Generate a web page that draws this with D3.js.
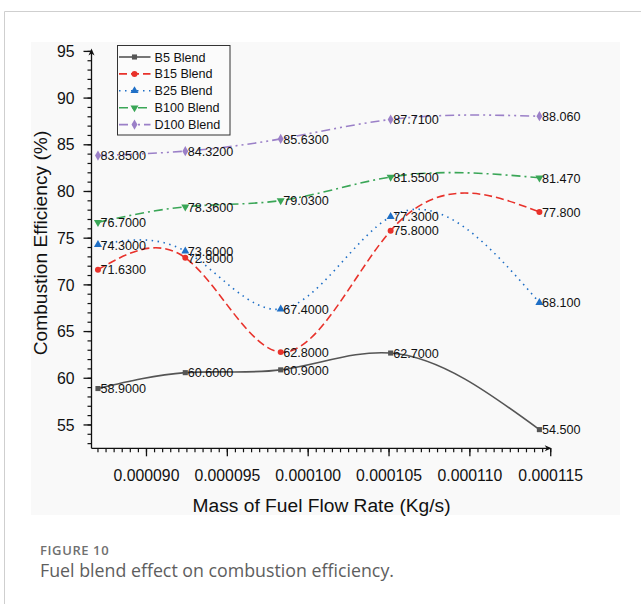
<!DOCTYPE html>
<html>
<head>
<meta charset="utf-8">
<script src="https://cdn.jsdelivr.net/npm/d3@7"></script>
<style>
  body { margin: 0; background: #fff; }
  svg { display: block; }
  svg text { font-family: Arial, "Liberation Sans", Helvetica, sans-serif; }
  svg text.cap { font-family: "Open Sans", "Noto Sans", sans-serif; }
</style>
</head>
<body>
<svg id="chart" width="641" height="604"></svg>
<script>
// mass of fuel flow rate (kg/s)
const flowRates = [0.0000870, 0.0000924, 0.0000983, 0.0001051, 0.0001143]

const seriesNames = ["B5 Blend", "B15 Blend", "B25 Blend", "B100 Blend", "D100 Blend"]
const b5 = [58.90, 60.60, 60.90, 62.70, 54.50]
const b15 = [71.63, 72.90, 62.80, 75.80, 77.80]
const b25 = [74.30, 73.60, 67.40, 77.30, 68.10]
const b100 = [76.70, 78.36, 79.03, 81.55, 81.47]
const d100 = [83.85, 84.32, 85.63, 87.71, 88.06]

const xTicks = [0.000090, 0.000095, 0.000100, 0.000105, 0.000110, 0.000115]
const yTicks = [55, 60, 65, 70, 75, 80, 85, 90, 95]

const colors = ["#555555", "#e8322b", "#1f6fc6", "#3aa657", "#9b80c8"]
const dashes = ["none", "8,4", "1.5,4.5", "9,4,2,4", "9,4,2,4,2,4"]
const symbols = [d3.symbolSquare, d3.symbolCircle, d3.symbolTriangle, d3.symbolTriangle, d3.symbolDiamond]
const symbolRot = [0, 0, 0, 180, 0]

const allSeries = [b5, b15, b25, b100, d100]

// natural cubic spline in x (like Origin's spline connector), as a d3 curve
function curveSplineX(context) {
    let pts = []
    return {
        areaStart() {}, areaEnd() {},
        lineStart() { pts = [] },
        point(px, py) { pts.push([+px, +py]) },
        lineEnd() {
            const n = pts.length - 1
            if (n < 1) return
            const h = d3.range(n).map(i => pts[i + 1][0] - pts[i][0])
            const M = new Array(n + 1).fill(0)
            // tridiagonal solve for inner second derivatives
            const a = [], b = [], c = [], r = []
            for (let i = 1; i < n; i++) {
                a.push(h[i - 1]); b.push(2 * (h[i - 1] + h[i])); c.push(h[i])
                r.push(6 * ((pts[i + 1][1] - pts[i][1]) / h[i] - (pts[i][1] - pts[i - 1][1]) / h[i - 1]))
            }
            const m = r.length
            for (let i = 1; i < m; i++) {
                const w = a[i] / b[i - 1]
                b[i] -= w * c[i - 1]
                r[i] -= w * r[i - 1]
            }
            const sol = new Array(m)
            for (let i = m - 1; i >= 0; i--) sol[i] = (r[i] - (i < m - 1 ? c[i] * sol[i + 1] : 0)) / b[i]
            sol.forEach((v, i) => M[i + 1] = v)

            context.moveTo(pts[0][0], pts[0][1])
            for (let i = 0; i < n; i++) {
                const hi = h[i]
                const s = (pts[i + 1][1] - pts[i][1]) / hi
                const d0 = s - hi * (2 * M[i] + M[i + 1]) / 6
                const d1 = s + hi * (M[i] + 2 * M[i + 1]) / 6
                context.bezierCurveTo(
                    pts[i][0] + hi / 3, pts[i][1] + d0 * hi / 3,
                    pts[i + 1][0] - hi / 3, pts[i + 1][1] - d1 * hi / 3,
                    pts[i + 1][0], pts[i + 1][1])
            }
        }
    }
}

const svg = d3.select("#chart")

// outer frame (left + top rule)
svg.append("line").attr("x1", 4.5).attr("x2", 641).attr("y1", 11.5).attr("y2", 11.5)
    .attr("stroke", "#cfcfcf")
svg.append("line").attr("x1", 4.5).attr("x2", 4.5).attr("y1", 11.5).attr("y2", 604)
    .attr("stroke", "#cfcfcf")

// figure panel
svg.append("rect")
    .attr("x", 31).attr("y", 42)
    .attr("width", 589).attr("height", 473)
    .attr("fill", "#f9f9f9")

const x = d3.scaleLinear().domain([0.0000866, 0.00011506]).range([91.5, 551.7])
const y = d3.scaleLinear().domain([52.5, 95.3]).range([448.3, 48.6])

const axisColor = "#111"

// x axis
const xAxisG = svg.append("g").attr("transform", `translate(0,${y(52.5)})`)
xAxisG.append("line").attr("x1", x.range()[0]).attr("x2", x.range()[1] - 4)
    .attr("stroke", axisColor).attr("stroke-width", 1.3)
xAxisG.append("path")
    .attr("d", `M${x.range()[1]},0 L${x.range()[1] - 7},-3 L${x.range()[1] - 5},0 L${x.range()[1] - 7},3 Z`)
    .attr("fill", axisColor)

const xMinor = d3.range(87, 115.01, 0.5).map(v => v * 1e-6)
xAxisG.selectAll(".xminor").data(xMinor).join("line")
    .attr("class", "xminor")
    .attr("x1", d => x(d)).attr("x2", d => x(d))
    .attr("y1", 0).attr("y2", 4)
    .attr("stroke", axisColor).attr("stroke-width", 1.2)

xAxisG.selectAll(".xmajor").data(xTicks).join("line")
    .attr("class", "xmajor")
    .attr("x1", d => x(d)).attr("x2", d => x(d))
    .attr("y1", 0).attr("y2", 8)
    .attr("stroke", axisColor).attr("stroke-width", 1.3)

xAxisG.selectAll(".xlab").data(xTicks).join("text")
    .attr("class", "xlab")
    .attr("x", d => x(d)).attr("y", 33)
    .attr("text-anchor", "middle")
    .style("font-size", "15.8px")
    .attr("fill", "#111")
    .text(d => d.toFixed(6))

svg.append("text")
    .attr("x", (x.range()[0] + x.range()[1]) / 2).attr("y", 511.5)
    .attr("text-anchor", "middle")
    .style("font-size", "19.2px")
    .attr("fill", "#111")
    .text("Mass of Fuel Flow Rate (Kg/s)")

// y axis
const yAxisG = svg.append("g").attr("transform", `translate(${x.range()[0]},0)`)
yAxisG.append("line").attr("y1", y.range()[0]).attr("y2", y.range()[1] + 4)
    .attr("stroke", axisColor).attr("stroke-width", 1.3)
yAxisG.append("path")
    .attr("d", `M0,${y.range()[1]} L-3,${y.range()[1] + 7} L0,${y.range()[1] + 5} L3,${y.range()[1] + 7} Z`)
    .attr("fill", axisColor)

const yMinor = d3.range(53, 95.01, 1)
yAxisG.selectAll(".yminor").data(yMinor).join("line")
    .attr("class", "yminor")
    .attr("x1", 0).attr("x2", -4)
    .attr("y1", d => y(d)).attr("y2", d => y(d))
    .attr("stroke", axisColor).attr("stroke-width", 1.2)

yAxisG.selectAll(".ymajor").data(yTicks).join("line")
    .attr("class", "ymajor")
    .attr("x1", 0).attr("x2", -8)
    .attr("y1", d => y(d)).attr("y2", d => y(d))
    .attr("stroke", axisColor).attr("stroke-width", 1.3)

yAxisG.selectAll(".ylab").data(yTicks).join("text")
    .attr("class", "ylab")
    .attr("x", -17).attr("y", d => y(d))
    .attr("dy", "0.36em")
    .attr("text-anchor", "end")
    .style("font-size", "15.8px")
    .attr("fill", "#111")
    .text(d => d)

svg.append("text")
    .attr("transform", `translate(47,243) rotate(-90)`)
    .attr("text-anchor", "middle")
    .style("font-size", "19.2px")
    .attr("fill", "#111")
    .text("Combustion Efficiency (%)")

// curves
const line = d3.line()
    .x((d, i) => x(flowRates[i]))
    .y(d => y(d))
    .curve(curveSplineX)

const symbolGen = (i) => d3.symbol().type(symbols[i]).size(i === 0 ? 26 : (i === 4 ? 30 : 28))

allSeries.forEach((vals, s) => {
    const g = svg.append("g").attr("class", "series")

    g.append("path")
        .datum(vals)
        .attr("d", line)
        .attr("fill", "none")
        .attr("stroke", colors[s])
        .attr("stroke-width", 1.6)
        .attr("stroke-dasharray", dashes[s])

    g.selectAll(".pt").data(vals).join("path")
        .attr("class", "pt")
        .attr("d", symbolGen(s))
        .attr("transform", (d, i) => `translate(${x(flowRates[i])},${y(d)}) rotate(${symbolRot[s]})`)
        .attr("fill", colors[s])

    // value labels - last column is printed with 3 decimals in the original
    g.selectAll(".lbl").data(vals).join("text")
        .attr("class", "lbl")
        .attr("x", (d, i) => x(flowRates[i]) + 2.5)
        .attr("y", d => y(d))
        .attr("dy", "0.38em")
        .style("font-size", "12.6px")
        .attr("fill", "#111")
        .text((d, i) => i === vals.length - 1 ? d.toFixed(3) : d.toFixed(4))
})

// legend
const legend = svg.append("g").attr("transform", "translate(117.5,45.5)")
legend.append("rect")
    .attr("width", 112.5).attr("height", 89.5)
    .attr("fill", "#fbfbfb")
    .attr("stroke", "#333").attr("stroke-width", 1)

seriesNames.forEach((name, s) => {
    const ry = 11.5 + s * 16.9
    legend.append("line")
        .attr("x1", 1.5).attr("x2", 33)
        .attr("y1", ry).attr("y2", ry)
        .attr("stroke", colors[s])
        .attr("stroke-width", 1.6)
        .attr("stroke-dasharray", dashes[s])
    legend.append("path")
        .attr("d", symbolGen(s))
        .attr("transform", `translate(17,${ry}) rotate(${symbolRot[s]})`)
        .attr("fill", colors[s])
    legend.append("text")
        .attr("x", 37).attr("y", ry)
        .attr("dy", "0.36em")
        .style("font-size", "12.6px")
        .attr("fill", "#111")
        .text(name)
})

// caption
svg.append("text")
    .attr("class", "cap")
    .attr("x", 40).attr("y", 555)
    .style("font-size", "13px")
    .style("font-weight", 600)
    .style("letter-spacing", "0.6px")
    .attr("fill", "#707070")
    .text("FIGURE 10")

svg.append("text")
    .attr("class", "cap")
    .attr("x", 40).attr("y", 577)
    .style("font-size", "17.8px")
    .attr("fill", "#5e5e5e")
    .text("Fuel blend effect on combustion efficiency.")
</script>
</body>
</html>
